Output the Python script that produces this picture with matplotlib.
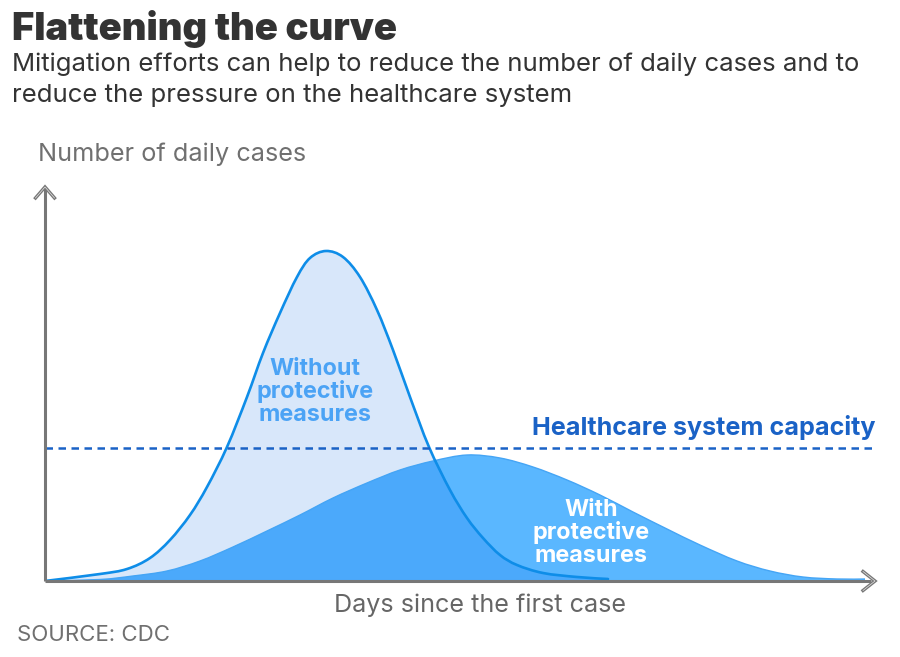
import matplotlib
matplotlib.use("Agg")
import matplotlib.pyplot as plt
import numpy as np
from matplotlib.path import Path
from matplotlib.patches import PathPatch

# Arbitrary units
without_days = [0, 5.5, 8.2, 10.5, 12.5, 14.5, 16.2, 18.2, 20.2, 21.8, 23.5, 25.2, 26.5, 28.1, 29.8, 31.5, 33.2, 34.8, 36.5, 38.4, 40.5, 42.2, 43.8, 45.5, 47.2, 49.8, 53.2, 56.3]
without_cases = [0, 7, 12, 23, 41, 66, 94, 134, 184, 228, 268, 304, 323, 330, 324, 304, 271, 231, 184, 134, 91, 63, 43, 26, 16, 8, 4, 2]
with_days = [0, 5.5, 8.8, 12.2, 15.5, 18.8, 22.2, 25.5, 28.8, 32.2, 35.5, 38.8, 42.2, 45.5, 48.8, 52.2, 55.5, 58.8, 62.2, 65.5, 69.2, 72.5, 75.8, 79.2, 82]
with_cases = [0, 1.5, 5, 10, 20, 34, 50, 66, 83, 98, 111, 120, 126, 123, 114, 101, 86, 69, 52, 36, 20, 10, 4, 2, 2]
capacity = 133
x_max, y_max = 83, 395

fig = plt.figure(figsize=(9, 6.57), dpi=100)
W, H = 900, 657
ax = fig.add_axes([45 / W, 1 - 581 / H, 830 / W, 395 / H])
ax.set_xlim(0, x_max)
ax.set_ylim(0, y_max)
ax.axis("off")


def smooth_path(xs, ys, close=False):
    pts = np.column_stack([xs, ys]).astype(float)
    verts = [pts[0]]
    codes = [Path.MOVETO]
    n = len(pts)
    for i in range(n - 1):
        p0 = pts[max(i - 1, 0)]
        p1, p2 = pts[i], pts[i + 1]
        p3 = pts[min(i + 2, n - 1)]
        verts += [p1 + (p2 - p0) / 6, p2 - (p3 - p1) / 6, p2]
        codes += [Path.CURVE4] * 3
    if close:
        verts += [[pts[-1, 0], 0], [pts[0, 0], 0], pts[0]]
        codes += [Path.LINETO, Path.LINETO, Path.CLOSEPOLY]
    return Path(np.array(verts), codes)


LIGHT, MID, OVER = "#d8e7fa", "#5ab7ff", "#4ba9fb"
area_wo = PathPatch(smooth_path(without_days, without_cases, True), fc=LIGHT, ec="none", zorder=1)
ax.add_patch(area_wo)
ax.add_patch(PathPatch(smooth_path(with_days, with_cases, True), fc=MID, ec="none", zorder=2))
over = PathPatch(smooth_path(with_days, with_cases, True), fc=OVER, ec="none", zorder=3)
ax.add_patch(over)
over.set_clip_path(area_wo)
ax.add_patch(PathPatch(smooth_path(with_days, with_cases), fc="none", ec="#45a5f5", lw=1.0, zorder=4))
ax.add_patch(PathPatch(smooth_path(without_days, without_cases), fc="none", ec="#0e8de8", lw=1.9, zorder=5, capstyle="round"))

ax.plot([0, x_max + 0.2], [capacity, capacity], color="#1a62c6", lw=1.8, dashes=(3.0, 2.2), zorder=6, clip_on=False)

GRAY = "#777777"
ax.plot([0, x_max - 0.4], [0, 0], color=GRAY, lw=2.2, zorder=7, clip_on=False, solid_capstyle="butt")
ax.plot([0, 0], [0, y_max - 1], color=GRAY, lw=2.2, zorder=7, clip_on=False, solid_capstyle="butt")
# chevron arrow heads
for color, lw in ((GRAY, 2.4), ("#e6e6e6", 0.5)):
    ax.plot([-0.95, 0, 0.95], [y_max - 12, y_max - 1, y_max - 12], color=color, lw=lw, zorder=8, clip_on=False,
            solid_joinstyle="miter")
    ax.plot([x_max - 1.2, x_max, x_max - 1.2], [9.5, 0, -9.5], color=color, lw=lw, zorder=8, clip_on=False,
            solid_joinstyle="miter")

FONT = ["Inter", "DejaVu Sans"]


def px(x, y, s, **kw):
    kw.setdefault("family", FONT)
    fig.text(x / W, 1 - y / H, s, **kw)


px(12, 40, "Flattening the curve", fontsize=27.5, fontweight="black", color="#333333", va="baseline")
px(12, 71, "Mitigation efforts can help to reduce the number of daily cases and to", fontsize=18.5, color="#333333", va="baseline")
px(12, 102, "reduce the pressure on the healthcare system", fontsize=18.5, color="#333333", va="baseline")
px(38, 161, "Number of daily cases", fontsize=18.2, color="#707070", va="baseline")
px(480, 612, "Days since the first case", fontsize=18.1, color="#666666", ha="center", va="baseline")
px(17, 641, "SOURCE: CDC", fontsize=16, color="#707070", va="baseline")
px(875, 435, "Healthcare system capacity", fontsize=18.1, fontweight="bold", color="#1a62c6", ha="right", va="baseline")
for y, s in zip((375, 398, 421), ("Without", "protective", "measures")):
    px(315, y, s, fontsize=16.8, fontweight="bold", color="#4ba3f5", ha="center", va="baseline", zorder=9)
for y, s in zip((516, 539, 562), ("With", "protective", "measures")):
    px(591, y, s, fontsize=16.8, fontweight="bold", color="white", ha="center", va="baseline", zorder=9)

fig.savefig("out.png", dpi=100)
